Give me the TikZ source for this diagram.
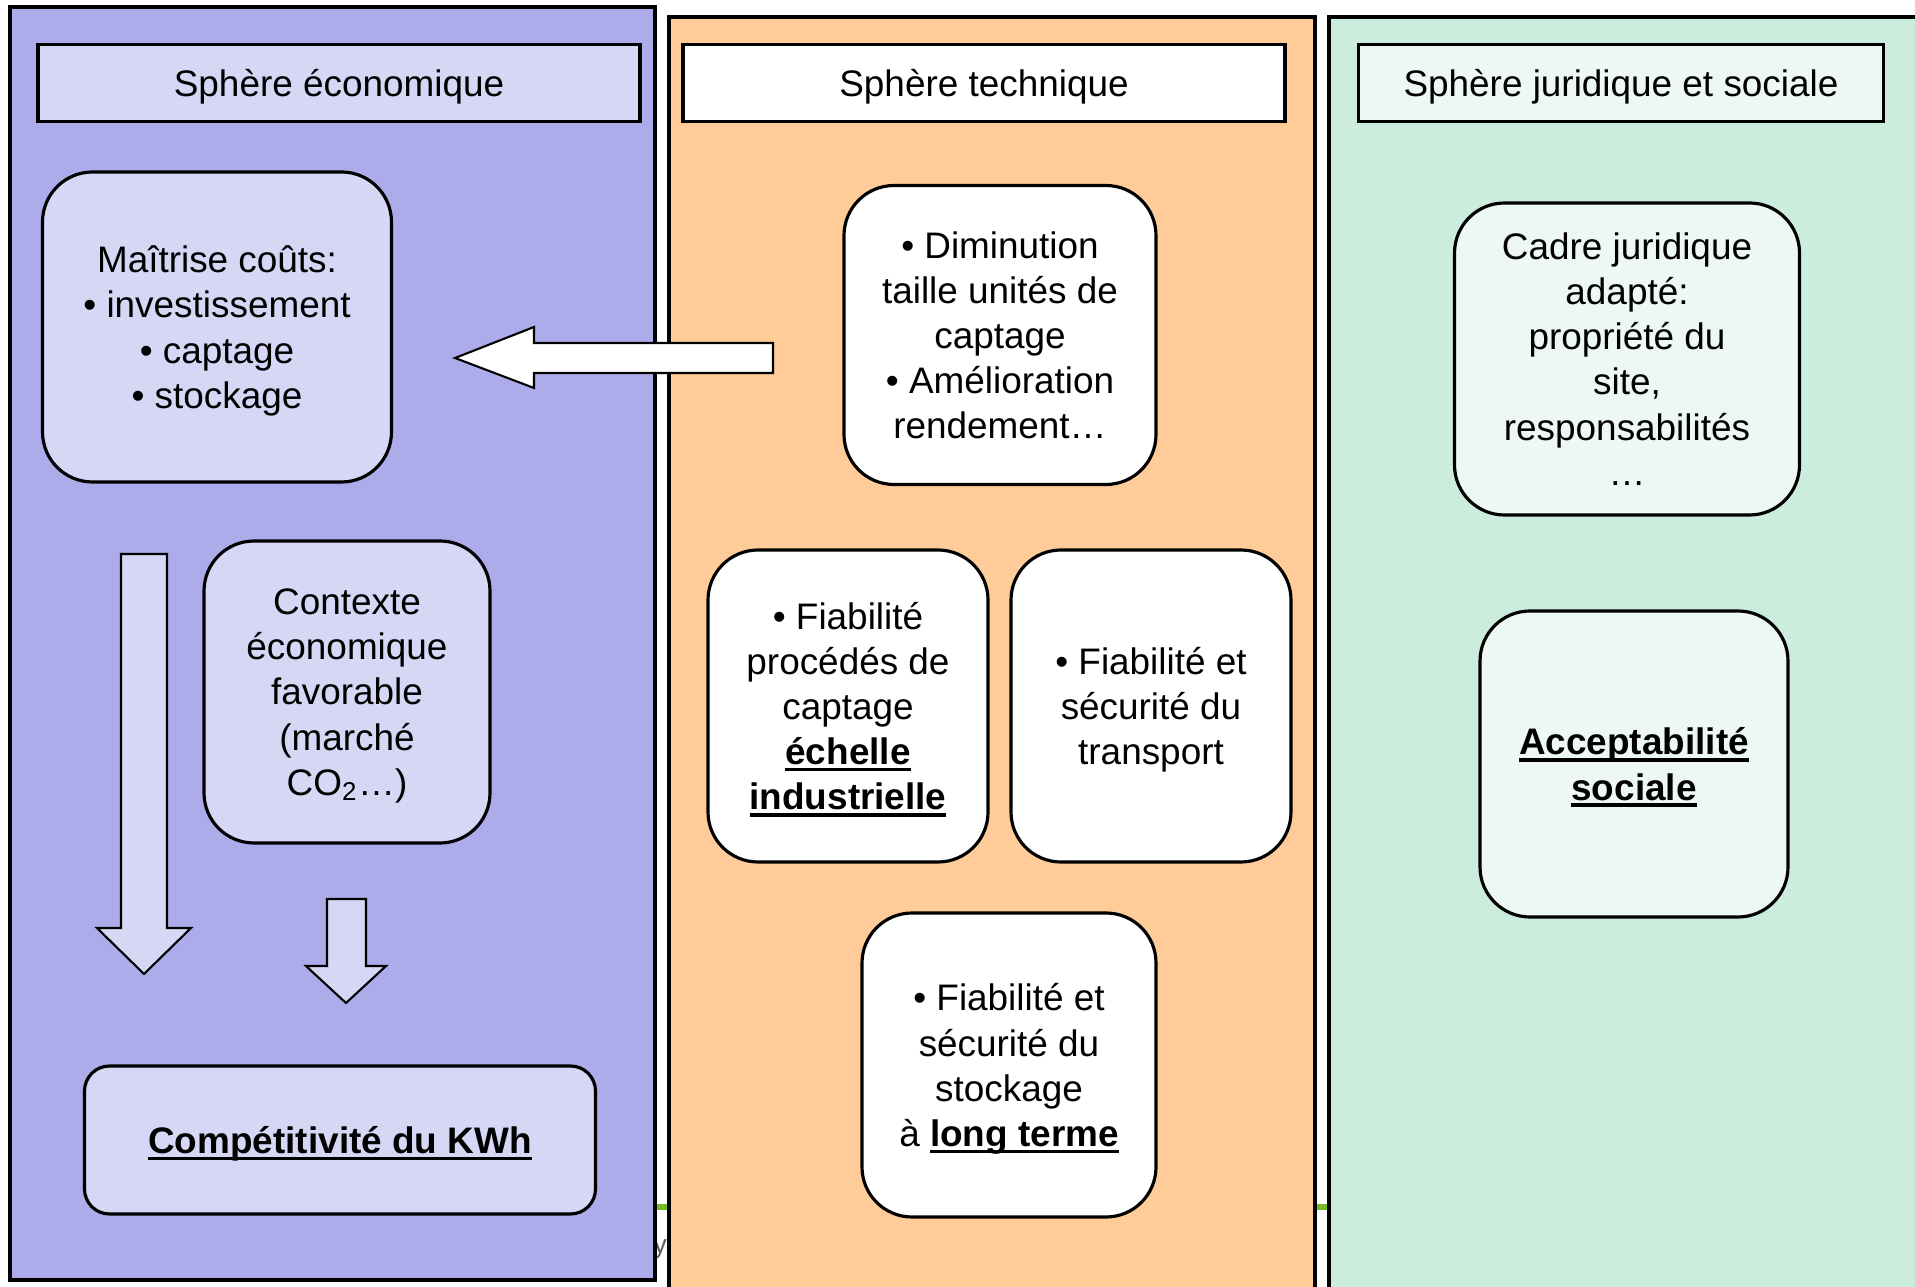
\documentclass[tikz,border=0pt]{standalone}
\usepackage{fontspec}
\setmainfont{Liberation Sans}
\definecolor{ecofond}{RGB}{172,172,235}
\definecolor{ecoboite}{RGB}{214,214,245}
\definecolor{techfond}{RGB}{255,204,153}
\definecolor{jurfond}{RGB}{204,236,222}
\definecolor{jurboite}{RGB}{237,248,243}
\definecolor{piedvert}{RGB}{118,186,38}
\definecolor{piedgris}{RGB}{95,95,95}
\newcommand{\souligne}[1]{\sbox0{\bfseries #1}\rlap{\rule[-0.18em]{\wd0}{0.09em}}\usebox0}

\begin{document}
\begin{tikzpicture}[x=0.1mm,y=-0.1mm,
    every node/.style={font=\fontsize{10.5}{12.85}\selectfont, align=center, text depth=0pt},
    panel/.style={draw, line width=1.1pt},
    titlebox/.style={draw, line width=1.1pt, minimum height=7.7mm, inner sep=0pt},
    roundbox/.style={draw, line width=0.9pt, rounded corners=5mm, inner sep=0pt},
    fatarrow/.style={draw, line width=0.6pt, line join=miter}]
      \useasboundingbox (0,0) rectangle (1915,1287);
      \clip (0,0) rectangle (1915,1287);
      \fill[white] (0,0) rectangle (1915,1287);
      % pied de page du transparent, sous les colonnes
      \draw[piedvert, line width=1.7pt] (655,1207) -- (1915,1207);
      \node[anchor=base west, inner sep=0pt, text=piedgris, font=\fontsize{7.5}{9}\selectfont] (pied) at (653,1253) {ys};
      % les trois spheres
      \draw[panel, fill=ecofond] (10,7) rectangle (655,1280);
      \draw[panel, fill=techfond] (669,17) rectangle (1315,1330);
      \draw[panel, fill=jurfond] (1329,17) rectangle (1960,1330);
      \node[titlebox, fill=ecoboite, minimum width=6.02cm] (eco) at (339,83) {Sphère économique};
      \node[titlebox, fill=white, minimum width=6.02cm] (tech) at (984,83) {Sphère technique};
      \node[titlebox, fill=jurboite, minimum width=5.25cm] (jur) at (1621,83) {Sphère juridique et sociale};
      % sphere economique
      \node[roundbox, fill=ecoboite, minimum width=3.49cm, minimum height=3.1cm] (couts) at (217,327)
        {Maîtrise coûts:\\• investissement\\• captage\\• stockage};
      \node[roundbox, fill=ecoboite, minimum width=2.86cm, minimum height=3.02cm] (contexte) at (347,692)
        {Contexte\\économique\\favorable\\(marché\\CO\textsubscript{2}…)};
      \node[roundbox, fill=ecoboite, rounded corners=2.5mm, minimum width=5.11cm, minimum height=1.48cm] (kwh) at (340,1140)
        {\souligne{Compétitivité du KWh}};
      % sphere technique
      \node[roundbox, fill=white, minimum width=3.12cm, minimum height=2.99cm] (diminution) at (1000,335)
        {• Diminution\\taille unités de\\captage\\• Amélioration\\rendement…};
      \node[roundbox, fill=white, minimum width=2.8cm, minimum height=3.12cm] (procedes) at (848,706)
        {• Fiabilité\\procédés de\\captage\\\souligne{échelle}\\\souligne{industrielle}};
      \node[roundbox, fill=white, minimum width=2.8cm, minimum height=3.12cm] (transport) at (1151,706)
        {• Fiabilité et\\sécurité du\\transport};
      \node[roundbox, fill=white, minimum width=2.94cm, minimum height=3.04cm] (stockage) at (1009,1065)
        {• Fiabilité et\\sécurité du\\stockage\\à \souligne{long terme}};
      % sphere juridique et sociale
      \node[roundbox, fill=jurboite, minimum width=3.45cm, minimum height=3.12cm] (cadre) at (1627,359)
        {Cadre juridique\\adapté:\\propriété du\\site,\\responsabilités\\…};
      \node[roundbox, fill=jurboite, minimum width=3.08cm, minimum height=3.06cm] (accept) at (1634,764)
        {\souligne{Acceptabilité}\\\souligne{sociale}};
      % grosses fleches
      \draw[fatarrow, fill=white] (773,343) -- (534,343) -- (534,327) -- (455,358)
        -- (534,388) -- (534,373) -- (773,373) -- cycle;
      \draw[fatarrow, fill=ecoboite] (121,554) -- (167,554) -- (167,928) -- (191,928)
        -- (144,974) -- (97,928) -- (121,928) -- cycle;
      \draw[fatarrow, fill=ecoboite] (327,899) -- (366,899) -- (366,966) -- (386,966)
        -- (346,1003) -- (306,966) -- (327,966) -- cycle;
\end{tikzpicture}
\end{document}
